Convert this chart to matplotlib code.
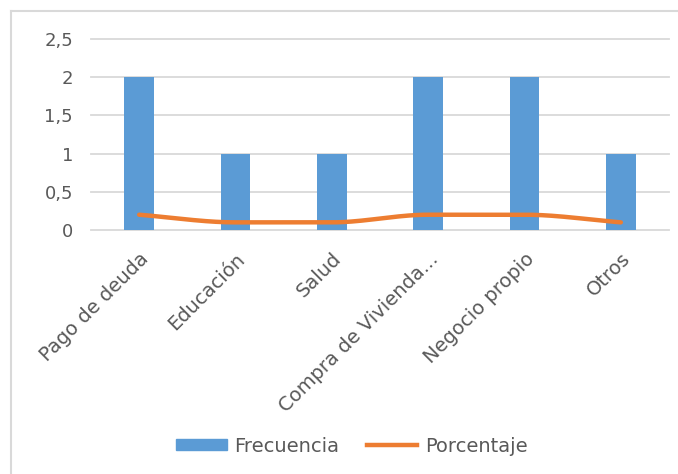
import matplotlib.pyplot as plt
import numpy as np
from matplotlib.lines import Line2D
from matplotlib.patches import Patch

categorias = ['Pago de deuda', 'Educación', 'Salud', 'Compra de Vivienda...',
              'Negocio propio', 'Otros']
frecuencia = [2, 1, 1, 2, 2, 1]
porcentaje = [0.2, 0.1, 0.1, 0.2, 0.2, 0.1]
y_ticks = [0, 0.5, 1, 1.5, 2, 2.5]
y_labels = ['0', '0,5', '1', '1,5', '2', '2,5']

AZUL = '#5B9BD5'
NARANJA = '#ED7D31'
GRIS = '#595959'
REJILLA = '#D9D9D9'


def suavizar(x, y, n=40):
    # cúbica monótona (Fritsch-Carlson): tramos planos entre valores iguales
    x = np.asarray(x, float)
    y = np.asarray(y, float)
    h = np.diff(x)
    d = np.diff(y) / h
    m = np.zeros_like(y)
    m[0], m[-1] = d[0], d[-1]
    for i in range(1, len(y) - 1):
        if d[i - 1] * d[i] > 0:
            m[i] = 2 / (1 / d[i - 1] + 1 / d[i])
    xs, ys = [], []
    t = np.linspace(0, 1, n)
    for i in range(len(h)):
        h00 = 2 * t ** 3 - 3 * t ** 2 + 1
        h10 = t ** 3 - 2 * t ** 2 + t
        h01 = -2 * t ** 3 + 3 * t ** 2
        h11 = t ** 3 - t ** 2
        xs.extend(x[i] + t * h[i])
        ys.extend(h00 * y[i] + h10 * h[i] * m[i] + h01 * y[i + 1] + h11 * h[i] * m[i + 1])
    return xs, ys


fig = plt.figure(figsize=(6.78, 4.74), dpi=100)
# marco del gráfico
fig.add_artist(Line2D([11 / 678, 11 / 678], [0, 1 - 11 / 474], color=REJILLA, lw=1.5))
fig.add_artist(Line2D([11 / 678, 1], [1 - 11 / 474, 1 - 11 / 474], color=REJILLA, lw=1.5))

ax = fig.add_axes([91 / 678, 1 - 230 / 474, (669 - 91) / 678, (230 - 39) / 474])
x = np.arange(len(categorias))
ax.bar(x, frecuencia, width=0.31, color=AZUL, zorder=2)
sx, sy = suavizar(x, porcentaje)
ax.plot(sx, sy, color=NARANJA, lw=3.2, solid_capstyle='round', zorder=3)

ax.set_xlim(-0.5, len(categorias) - 0.5)
ax.set_ylim(0, 2.5)
ax.set_yticks(y_ticks)
ax.set_yticklabels(y_labels, color=GRIS, fontsize=13)
ax.yaxis.grid(True, color=REJILLA, lw=1.3)
for g in ax.get_ygridlines():
    g.set_clip_on(False)
ax.set_axisbelow(True)
ax.tick_params(length=0)
ax.tick_params(axis='y', pad=13)
for s in ax.spines.values():
    s.set_visible(False)

ax.set_xticks(x)
ax.set_xticklabels(categorias, rotation=45, ha='right', va='top',
                   rotation_mode='anchor', color=GRIS, fontsize=14)
ax.tick_params(axis='x', pad=14)

handles = [Patch(color=AZUL), Line2D([], [], color=NARANJA, lw=3.2)]
fig.legend(handles, ['Frecuencia', 'Porcentaje'], loc='center',
           bbox_to_anchor=(352 / 678, 1 - 446 / 474), ncol=2, frameon=False,
           fontsize=14, labelcolor=GRIS, handlelength=2.6, handleheight=0.46,
           handletextpad=0.4, columnspacing=1.4)

fig.savefig('out.png', dpi=100, facecolor='white')
